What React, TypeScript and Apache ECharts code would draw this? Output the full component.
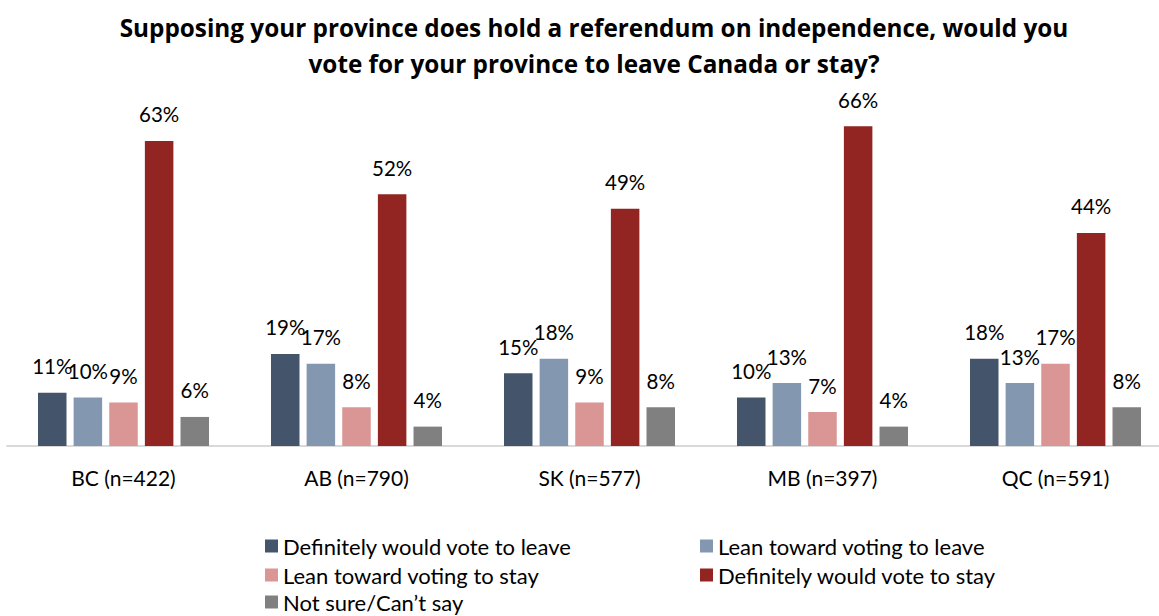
import React, { useEffect, useRef } from "react";
import * as echarts from "echarts";

const categories = ["BC (n=422)", "AB (n=790)", "SK (n=577)", "MB (n=397)", "QC (n=591)"];
const seriesNames = [
  "Definitely would vote to leave",
  "Lean toward voting to leave",
  "Lean toward voting to stay",
  "Definitely would vote to stay",
  "Not sure/Can\u2019t say",
];
const defLeave = [11, 19, 15, 10, 18];
const leanLeave = [10, 17, 18, 13, 13];
const leanStay = [9, 8, 9, 7, 17];
const defStay = [63, 52, 49, 66, 44];
const notSure = [6, 4, 8, 4, 8];
const colors = ["#44546A", "#8497B0", "#DA9694", "#922522", "#808080"];

const FONT = "Lato, 'Open Sans', sans-serif";

export default function App() {
  const ref = useRef<HTMLDivElement>(null);
  useEffect(() => {
    if (!ref.current) return;
    const chart = echarts.init(ref.current, undefined, { renderer: "svg" });
    const values = [defLeave, leanLeave, leanStay, defStay, notSure];
    const legendPos = [
      { left: 260, top: 530 },
      { left: 695, top: 530 },
      { left: 260, top: 559 },
      { left: 695, top: 559 },
      { left: 260, top: 586 },
    ];
    chart.setOption({
      animation: false,
      textStyle: { fontFamily: FONT },
      title: {
        text: "Supposing your province does hold a referendum on independence, would you\nvote for your province to leave Canada or stay?",
        left: 589,
        textAlign: "center",
        top: 4,
        textStyle: {
          fontFamily: "'Open Sans', sans-serif",
          fontSize: 24.3,
          fontWeight: "bold",
          color: "#000",
          lineHeight: 36,
        },
      },
      legend: seriesNames.map((n, i) => ({
        data: [n],
        left: legendPos[i].left,
        top: legendPos[i].top,
        itemWidth: 13,
        itemHeight: 13,
        itemGap: 0,
        icon: "rect",
        textStyle: { fontFamily: FONT, fontSize: 22, color: "#000", padding: [0, 0, 0, 0] },
      })),
      grid: { left: 7, width: 1165, top: 107, bottom: 616 - 446, outerBoundsMode: "none" },
      xAxis: {
        type: "category",
        data: categories,
        axisTick: { show: false },
        axisLine: { lineStyle: { color: "#D9D9D9", width: 2 } },
        axisLabel: { fontFamily: FONT, fontSize: 21, color: "#000", margin: 21 },
      },
      yAxis: { type: "value", min: 0, max: 70, show: false, splitLine: { show: false } },
      series: seriesNames.map((n, i) => ({
        name: n,
        type: "bar",
        data: values[i],
        barGap: "25%",
        barCategoryGap: "26.6%",
        itemStyle: { color: colors[i] },
        label: {
          show: true,
          position: "top",
          distance: 16,
          formatter: "{c}%",
          fontFamily: FONT,
          fontSize: 20.5,
          color: "#000",
        },
      })),
    });
    return () => chart.dispose();
  }, []);
  return (
    <div
      ref={ref}
      style={{ position: "absolute", left: 0, top: 0, width: 1159, height: 616, background: "#fff" }}
    />
  );
}
